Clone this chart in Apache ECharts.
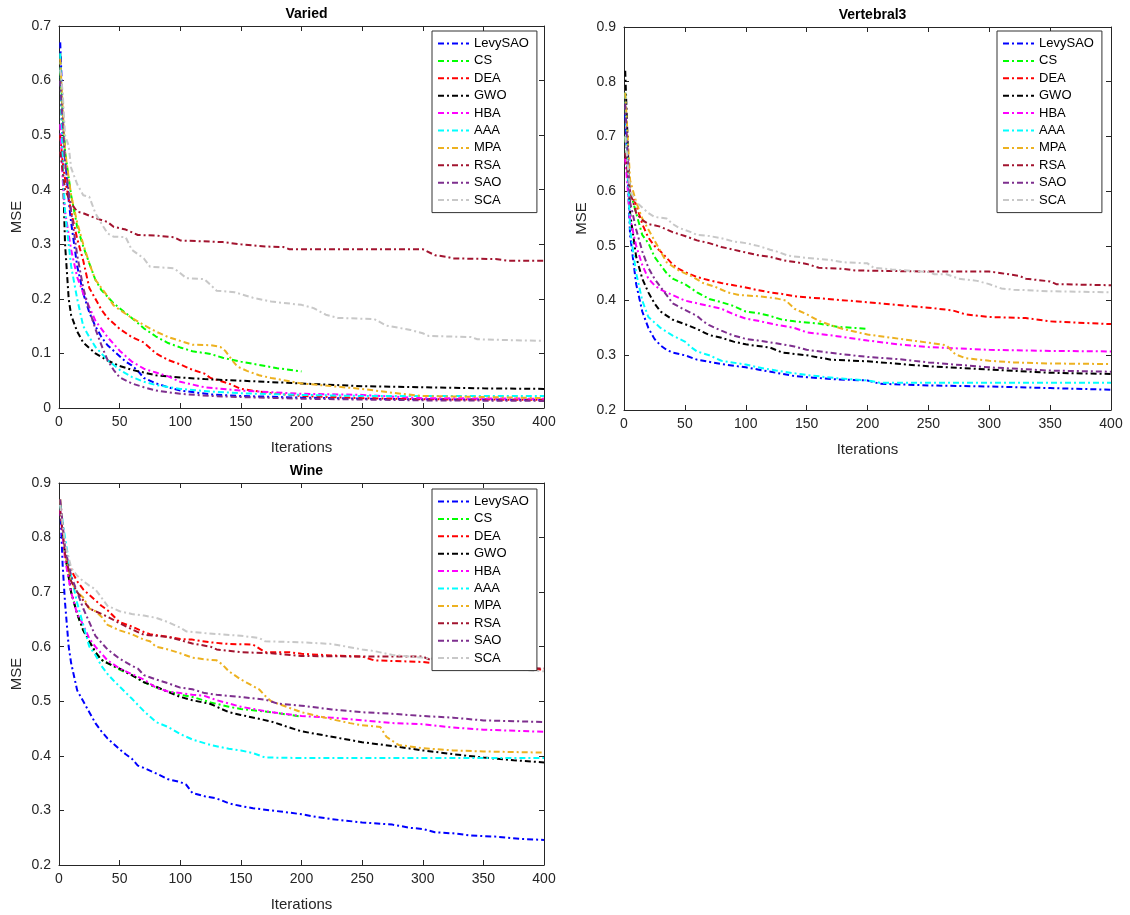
<!DOCTYPE html>
<html>
<head>
<meta charset="utf-8">
<script src="https://cdn.jsdelivr.net/npm/echarts@6/dist/echarts.min.js"></script>
<style>
html,body{margin:0;padding:0;background:#fff;}
#chart{width:1130px;height:915px;}
</style>
</head>
<body>
<div id="chart"></div>
<script>
// ---------- names / colours ----------
const algoNames = ['LevySAO','CS','DEA','GWO','HBA','AAA','MPA','RSA','SAO','SCA'];
const panelTitles = ['Varied','Vertebral3','Wine'];
const xTicks = [0,50,100,150,200,250,300,350,400];

// ---------- Varied ----------
const variedLevySAO = [[1,.67],[3,.55],[5,.46],[8,.38],[10,.34],[15,.26],[20,.21],[25,.175],[30,.15],[35,.13],[40,.115],[45,.105],[50,.095],[55,.085],[60,.078],[65,.068],[70,.055],[80,.045],[90,.038],[100,.032],[125,.025],[150,.022],[200,.019],[250,.017],[300,.016],[400,.015]];
const variedCS = [[1,.62],[3,.55],[5,.47],[10,.39],[15,.332],[20,.296],[25,.265],[30,.235],[35,.216],[40,.204],[45,.192],[50,.183],[60,.165],[70,.146],[80,.131],[90,.119],[100,.111],[110,.104],[125,.099],[135,.092],[150,.085],[165,.079],[180,.073],[200,.067]];
const variedDEA = [[1,.5],[3,.45],[5,.42],[10,.36],[15,.31],[20,.27],[25,.22],[30,.2],[35,.18],[40,.165],[50,.145],[60,.13],[70,.12],[80,.1],[90,.088],[100,.08],[110,.07],[120,.063],[125,.055],[140,.045],[150,.035],[175,.027],[200,.022],[250,.018],[300,.016],[400,.015]];
const variedGWO = [[1,.65],[3,.45],[5,.3],[8,.2],[10,.17],[15,.14],[20,.12],[30,.1],[40,.087],[50,.077],[60,.07],[70,.065],[80,.06],[100,.056],[120,.053],[150,.05],[200,.045],[250,.04],[300,.038],[350,.036],[400,.035]];
const variedHBA = [[1,.52],[3,.42],[5,.36],[10,.29],[15,.24],[20,.21],[25,.185],[30,.16],[40,.13],[50,.105],[60,.085],[70,.072],[80,.065],[90,.058],[100,.048],[120,.038],[150,.032],[200,.026],[250,.024],[300,.018],[400,.017]];
const variedAAA = [[1,.65],[3,.45],[5,.36],[10,.26],[15,.2],[20,.15],[25,.13],[30,.112],[40,.088],[50,.07],[60,.057],[70,.048],[80,.042],[100,.035],[125,.03],[150,.027],[200,.024],[250,.022],[400,.022]];
const variedMPA = [[1,.64],[3,.55],[5,.47],[10,.39],[15,.34],[20,.3],[25,.265],[30,.235],[40,.205],[45,.188],[50,.18],[60,.165],[70,.152],[80,.14],[90,.13],[100,.123],[110,.116],[125,.115],[133,.112],[137,.105],[142,.09],[147,.076],[155,.068],[165,.06],[175,.055],[200,.045],[225,.04],[250,.035],[275,.028],[300,.022],[350,.02],[400,.018]];
const variedRSA = [[1,.47],[5,.4],[10,.375],[15,.36],[20,.357],[30,.348],[40,.341],[45,.332],[55,.327],[65,.317],[80,.316],[95,.313],[100,.307],[135,.304],[150,.3],[170,.296],[185,.295],[190,.291],[300,.291],[310,.28],[320,.277],[325,.274],[360,.273],[370,.27],[400,.27]];
const variedSAO = [[1,.6],[5,.45],[10,.36],[15,.28],[20,.22],[25,.18],[30,.145],[35,.115],[40,.088],[45,.07],[50,.056],[60,.045],[70,.038],[80,.032],[100,.026],[125,.022],[150,.02],[200,.017],[300,.014],[400,.013]];
const variedSCA = [[1,.62],[3,.58],[5,.5],[8,.48],[10,.44],[15,.41],[20,.39],[25,.387],[30,.357],[35,.338],[40,.32],[45,.314],[55,.313],[60,.29],[70,.274],[75,.259],[95,.256],[105,.238],[120,.236],[130,.215],[145,.212],[160,.202],[175,.195],[200,.189],[210,.183],[220,.171],[230,.165],[260,.163],[270,.151],[290,.143],[300,.137],[305,.132],[340,.13],[345,.126],[360,.125],[400,.123]];

// ---------- Vertebral3 ----------
const vertLevySAO = [[1,.74],[5,.52],[10,.43],[15,.38],[20,.35],[25,.33],[30,.318],[35,.31],[40,.305],[50,.3],[60,.292],[70,.288],[80,.284],[100,.278],[110,.274],[125,.268],[140,.262],[150,.26],[175,.256],[200,.254],[210,.248],[250,.245],[300,.243],[350,.24],[400,.237]];
const vertCS = [[1,.7],[5,.6],[10,.56],[15,.52],[20,.505],[25,.48],[30,.465],[35,.45],[40,.44],[50,.43],[60,.415],[70,.403],[80,.397],[90,.39],[100,.38],[110,.377],[120,.372],[130,.365],[140,.362],[150,.36],[160,.358],[175,.352],[190,.35],[200,.348]];
const vertDEA = [[1,.66],[5,.6],[10,.575],[15,.54],[20,.515],[25,.5],[30,.49],[35,.478],[40,.466],[45,.458],[50,.452],[60,.443],[70,.437],[80,.432],[90,.428],[100,.424],[110,.419],[120,.415],[130,.412],[140,.408],[150,.406],[200,.397],[210,.395],[250,.387],[270,.382],[280,.375],[300,.37],[330,.368],[350,.362],[370,.36],[400,.357]];
const vertGWO = [[1,.82],[5,.56],[10,.48],[15,.44],[20,.415],[25,.395],[30,.38],[40,.365],[50,.357],[60,.348],[70,.337],[80,.332],[90,.325],[100,.32],[110,.317],[120,.314],[130,.305],[150,.3],[170,.292],[200,.289],[250,.28],[300,.274],[350,.268],[400,.266]];
const vertHBA = [[1,.66],[5,.55],[10,.5],[15,.465],[20,.44],[25,.428],[30,.42],[40,.41],[50,.4],[60,.395],[70,.39],[80,.385],[90,.375],[100,.367],[110,.363],[125,.356],[140,.35],[150,.342],[175,.335],[200,.327],[225,.32],[250,.315],[300,.31],[350,.308],[400,.307]];
const vertAAA = [[1,.78],[5,.53],[10,.45],[15,.4],[20,.37],[25,.36],[30,.35],[40,.336],[50,.325],[55,.315],[60,.307],[70,.3],[80,.29],[100,.283],[110,.278],[125,.272],[140,.267],[150,.264],[175,.258],[200,.254],[210,.25],[250,.25],[400,.25]];
const vertMPA = [[1,.78],[5,.62],[10,.58],[15,.55],[20,.53],[25,.51],[30,.49],[35,.47],[45,.455],[55,.445],[65,.432],[75,.425],[85,.415],[95,.41],[110,.408],[125,.404],[133,.4],[140,.385],[150,.375],[160,.363],[170,.355],[180,.348],[190,.343],[200,.338],[220,.332],[240,.326],[260,.32],[265,.318],[272,.302],[280,.295],[300,.29],[320,.287],[350,.285],[400,.284]];
const vertRSA = [[1,.67],[5,.6],[10,.56],[15,.547],[20,.54],[30,.535],[40,.525],[50,.518],[60,.51],[70,.505],[80,.498],[90,.493],[100,.488],[110,.483],[120,.48],[130,.474],[150,.467],[160,.46],[180,.458],[190,.455],[250,.453],[300,.453],[310,.45],[325,.445],[330,.44],[350,.435],[355,.43],[400,.428]];
const vertSAO = [[1,.76],[5,.58],[10,.53],[15,.49],[20,.46],[25,.44],[30,.425],[35,.41],[40,.395],[50,.383],[60,.372],[65,.362],[70,.355],[80,.345],[90,.336],[100,.33],[110,.327],[125,.322],[140,.316],[150,.31],[175,.303],[200,.297],[225,.293],[250,.287],[300,.278],[350,.272],[400,.27]];
const vertSCA = [[1,.7],[5,.6],[10,.58],[15,.57],[20,.56],[25,.553],[35,.55],[40,.54],[45,.533],[55,.525],[60,.52],[70,.518],[80,.514],[90,.508],[100,.505],[110,.5],[120,.493],[125,.49],[135,.482],[150,.478],[170,.474],[180,.47],[200,.468],[205,.46],[220,.457],[250,.452],[255,.448],[265,.448],[275,.44],[290,.436],[300,.43],[310,.422],[320,.42],[350,.417],[400,.415]];

// ---------- Wine ----------
const wineLevySAO = [[1,.86],[3,.75],[5,.68],[8,.6],[10,.57],[15,.52],[20,.5],[25,.48],[30,.46],[35,.445],[40,.432],[45,.422],[50,.412],[55,.403],[60,.395],[65,.382],[70,.378],[80,.368],[90,.357],[100,.352],[105,.347],[110,.332],[120,.326],[130,.322],[140,.313],[150,.308],[160,.304],[175,.3],[190,.296],[200,.293],[210,.289],[225,.284],[250,.278],[275,.274],[290,.268],[300,.266],[310,.26],[325,.258],[340,.254],[360,.252],[380,.248],[400,.246]];
const wineCS = [[1,.86],[5,.77],[10,.7],[15,.66],[20,.63],[25,.61],[30,.59],[35,.576],[40,.57],[50,.558],[60,.548],[70,.535],[80,.525],[90,.518],[100,.512],[110,.508],[125,.498],[140,.49],[150,.486],[175,.48],[200,.472]];
const wineDEA = [[1,.86],[5,.78],[10,.74],[15,.72],[20,.705],[25,.695],[30,.685],[35,.675],[40,.667],[50,.645],[60,.637],[70,.627],[75,.623],[90,.618],[100,.614],[110,.613],[125,.608],[140,.605],[160,.604],[170,.59],[190,.59],[200,.587],[225,.584],[250,.582],[260,.575],[300,.572],[330,.565],[350,.563],[400,.558]];
const wineGWO = [[1,.86],[5,.77],[10,.7],[15,.66],[20,.63],[25,.61],[30,.59],[35,.576],[40,.57],[50,.56],[60,.548],[70,.535],[80,.527],[90,.517],[100,.508],[110,.502],[125,.495],[140,.48],[150,.475],[175,.463],[190,.452],[200,.445],[225,.435],[250,.425],[275,.418],[300,.41],[325,.403],[350,.397],[375,.392],[400,.388]];
const wineHBA = [[1,.85],[5,.76],[10,.7],[15,.66],[20,.64],[25,.615],[30,.6],[40,.575],[50,.56],[60,.55],[70,.54],[80,.525],[90,.518],[100,.515],[110,.512],[120,.51],[130,.502],[150,.49],[175,.48],[200,.473],[225,.47],[250,.465],[275,.46],[300,.458],[325,.452],[350,.448],[400,.444]];
const wineAAA = [[1,.86],[5,.8],[10,.73],[15,.68],[20,.64],[25,.6],[30,.585],[35,.565],[40,.55],[45,.538],[50,.527],[60,.505],[70,.482],[80,.462],[90,.453],[100,.44],[110,.43],[125,.42],[140,.413],[150,.41],[160,.405],[170,.397],[200,.396],[400,.396]];
const wineMPA = [[1,.87],[5,.77],[10,.72],[15,.7],[20,.69],[25,.67],[30,.665],[35,.655],[40,.64],[50,.63],[60,.623],[70,.613],[75,.61],[80,.6],[90,.595],[100,.588],[110,.58],[120,.577],[130,.575],[135,.567],[140,.555],[150,.54],[160,.528],[165,.522],[170,.51],[175,.5],[190,.488],[200,.48],[225,.467],[240,.46],[250,.456],[265,.453],[270,.435],[280,.42],[300,.414],[325,.41],[350,.408],[400,.406]];
const wineRSA = [[1,.85],[5,.77],[10,.72],[15,.7],[20,.685],[25,.67],[30,.665],[40,.655],[50,.643],[60,.632],[70,.622],[80,.62],[90,.618],[100,.612],[110,.606],[125,.6],[130,.595],[150,.59],[175,.588],[200,.583],[250,.582],[300,.582],[310,.572],[320,.565],[350,.562],[400,.56]];
const wineSAO = [[1,.87],[5,.78],[10,.73],[15,.7],[20,.67],[25,.645],[30,.62],[40,.595],[50,.578],[60,.565],[65,.56],[70,.548],[80,.54],[90,.533],[100,.525],[110,.522],[120,.515],[130,.512],[150,.508],[170,.503],[180,.496],[200,.492],[225,.485],[250,.48],[275,.477],[300,.473],[325,.47],[350,.465],[400,.462]];
const wineSCA = [[1,.86],[5,.79],[10,.745],[15,.73],[20,.72],[25,.712],[30,.705],[40,.675],[50,.665],[60,.66],[70,.657],[80,.653],[90,.645],[100,.635],[105,.628],[120,.625],[150,.62],[165,.616],[170,.61],[200,.608],[225,.605],[250,.595],[260,.592],[275,.585],[300,.58],[320,.575],[350,.562],[400,.555]];

const panelData = [
  [variedLevySAO, variedCS, variedDEA, variedGWO, variedHBA, variedAAA, variedMPA, variedRSA, variedSAO, variedSCA],
  [vertLevySAO, vertCS, vertDEA, vertGWO, vertHBA, vertAAA, vertMPA, vertRSA, vertSAO, vertSCA],
  [wineLevySAO, wineCS, wineDEA, wineGWO, wineHBA, wineAAA, wineMPA, wineRSA, wineSAO, wineSCA]
];
const yRanges = [[0,0.7],[0.2,0.9],[0.2,0.9]];

// ---------- styling ----------
const colors = ['#0000FF','#00FF00','#FF0000','#000000','#FF00FF','#00FFFF','#EDB120','#A2142F','#7E2F8E','#C8C8C8'];
const FONT = '"Liberation Sans", Arial, Helvetica, sans-serif';
const AX = '#262626';
const grids = [
  {left:59, top:26, width:485, height:382},
  {left:624, top:27, width:487, height:383},
  {left:59, top:483, width:485, height:382}
];
const legendPos = [{left:432, top:31},{left:997, top:31},{left:432, top:489}];

const xAxes = [], yAxes = [], series = [], titles = [], legends = [];
grids.forEach((g, i) => {
  const base = {
    gridIndex: i,
    type: 'value',
    axisLine: {show:true, onZero:false, lineStyle:{color:AX, width:1}},
    axisTick: {show:true, inside:true, length:5, lineStyle:{color:AX}},
    splitLine: {show:false}
  };
  xAxes.push(Object.assign({}, base, {
    position:'bottom', min:0, max:400, interval:50,
    name:'Iterations', nameLocation:'middle', nameGap:32,
    nameTextStyle:{fontFamily:FONT, fontSize:15, color:AX},
    axisLabel:{fontFamily:FONT, fontSize:14, color:AX, margin:7}
  }));
  xAxes.push(Object.assign({}, base, {
    position:'top', min:0, max:400, interval:50, axisLabel:{show:false}
  }));
  const [ymin, ymax] = yRanges[i];
  yAxes.push(Object.assign({}, base, {
    position:'left', min:ymin, max:ymax, interval:0.1,
    name:'MSE', nameLocation:'middle', nameGap:35,
    nameTextStyle:{fontFamily:FONT, fontSize:15, color:AX},
    axisLabel:{fontFamily:FONT, fontSize:14, color:AX, margin:8,
      formatter: v => (Math.round(v*10)/10).toString()}
  }));
  yAxes.push(Object.assign({}, base, {
    position:'right', min:ymin, max:ymax, interval:0.1, axisLabel:{show:false}
  }));
  titles.push({
    text: panelTitles[i],
    left: g.left + g.width/2, top: g.top - 24, textAlign:'center',
    textStyle:{fontFamily:FONT, fontSize:14, fontWeight:'bold', color:'#000'}
  });
  legends.push({
    data: algoNames, orient:'vertical',
    left: legendPos[i].left, top: legendPos[i].top,
    backgroundColor:'#fff', borderColor:'#333', borderWidth:1,
    padding:[6,8,6,5], itemWidth:31, itemHeight:14, itemGap:4.4,
    itemStyle:{color:'rgba(0,0,0,0)', borderColor:'rgba(0,0,0,0)', borderWidth:0},
    textStyle:{fontFamily:FONT, fontSize:13, color:'#000'},
    selectedMode:false
  });
  algoNames.forEach((name, k) => {
    series.push({
      type:'line', name, xAxisIndex: 2*i, yAxisIndex: 2*i,
      data: panelData[i][k],
      showSymbol:false, symbol:'none', smooth:false, clip:true,
      color: colors[k],
      lineStyle:{color: colors[k], width:2, type:[6,3,2,3]},
      animation:false, z: 2
    });
  });
});

const chart = echarts.init(document.getElementById('chart'), null, {renderer:'canvas'});
chart.setOption({
  backgroundColor:'#fff',
  animation:false,
  title: titles,
  legend: legends,
  grid: grids.map(g => Object.assign({containLabel:false}, g)),
  xAxis: xAxes,
  yAxis: yAxes,
  series
});
</script>
</body>
</html>
